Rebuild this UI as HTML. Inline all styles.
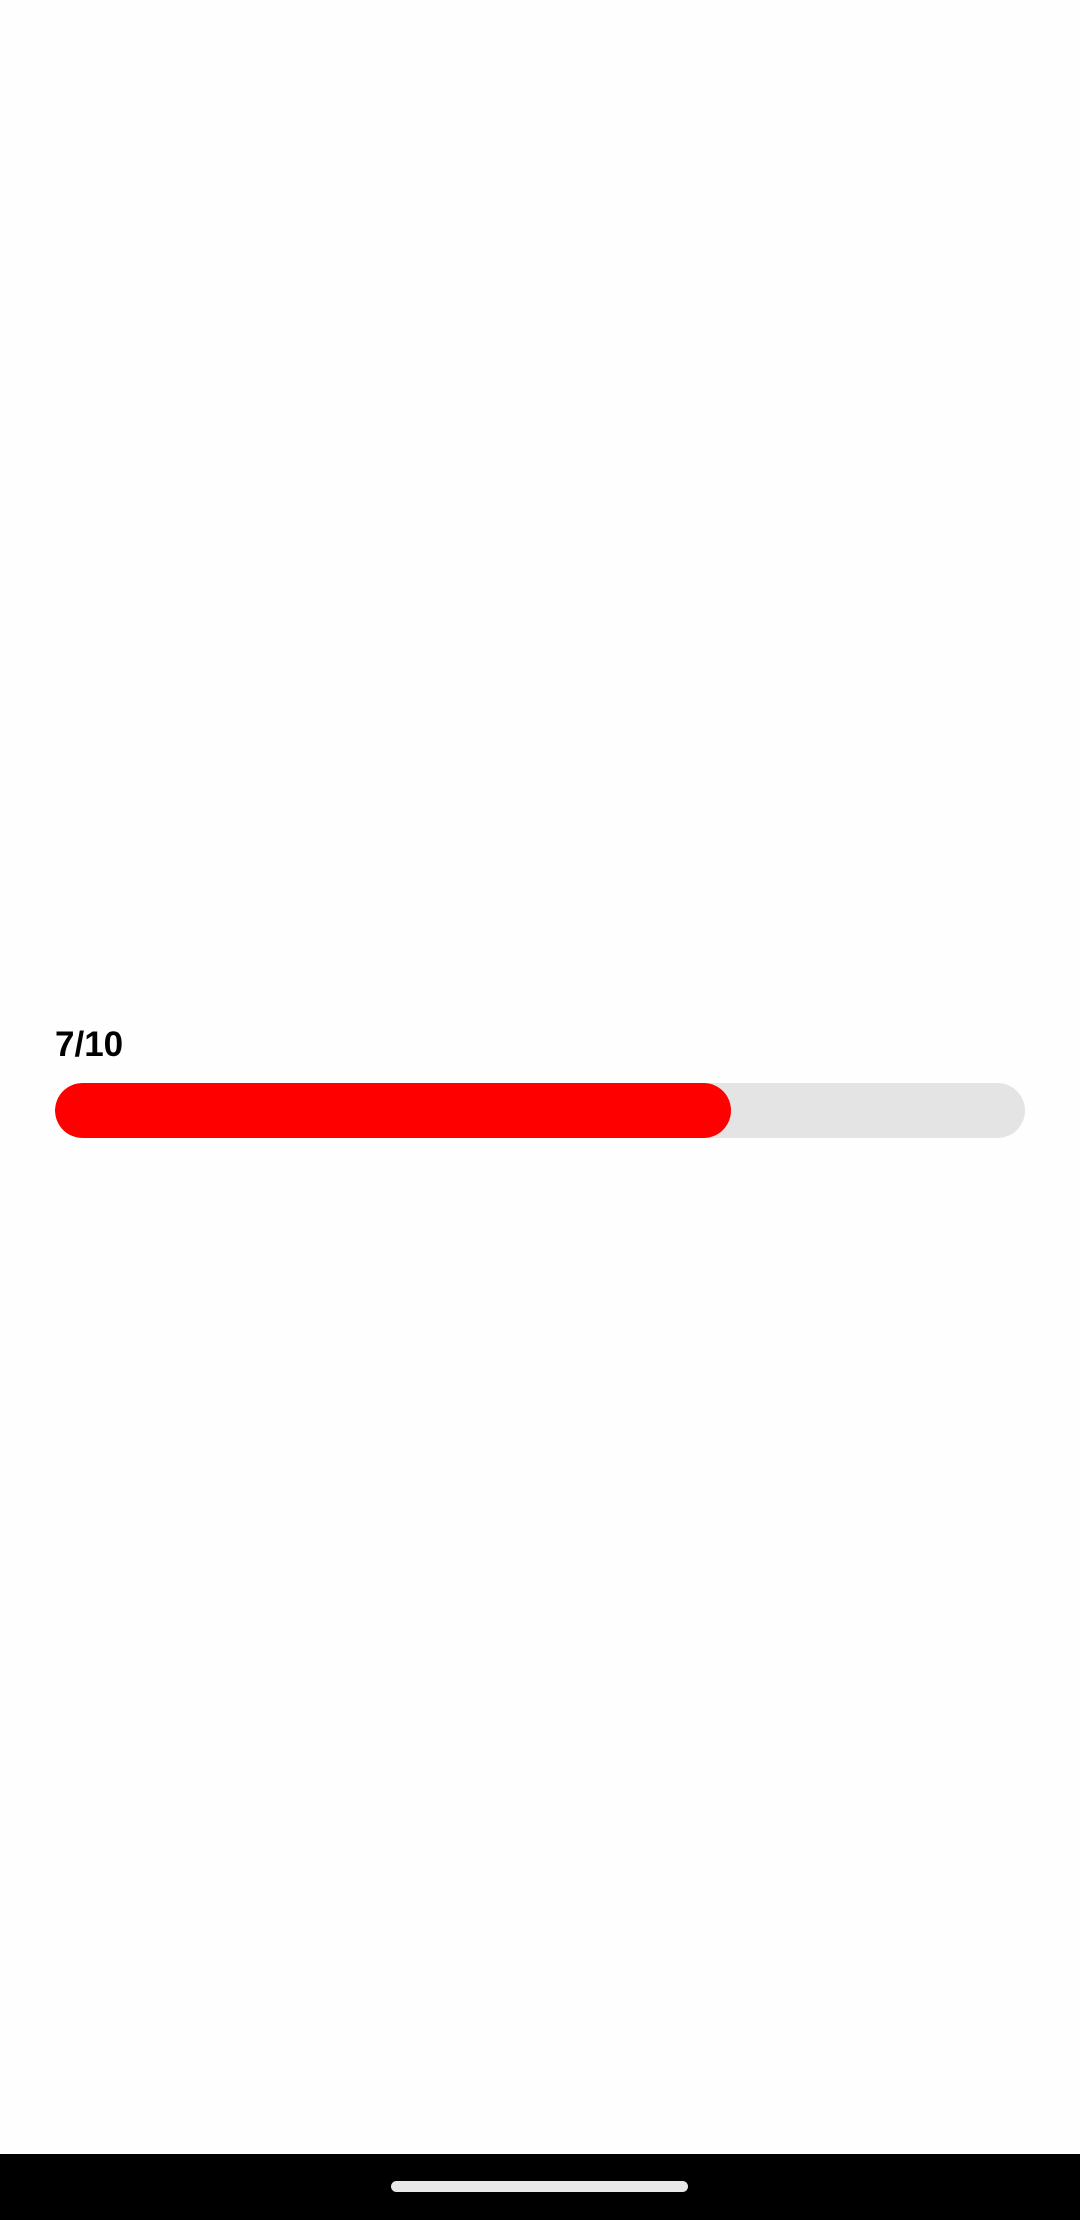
<!DOCTYPE html>
<html><head><meta charset="utf-8"><style>
body{margin:0;width:1080px;height:2220px;background:#fefefe;position:relative;overflow:hidden;font-family:"Liberation Sans",sans-serif}
#label{position:absolute;left:55px;top:1022px;font-size:35px;font-weight:bold;color:#000;line-height:46px}
#track{position:absolute;left:55px;top:1083px;width:970px;height:55px;border-radius:27.5px;background:#e4e4e4;overflow:hidden}
#fill{position:absolute;left:0;top:0;height:55px;border-radius:27.5px;background:#ff0000}
#navbar{position:absolute;left:0;top:2154px;width:1080px;height:66px;background:#000}
#home{position:absolute;left:391px;top:27px;width:297px;height:11px;border-radius:6px;background:#e8e8e8}
</style></head><body>
<div id="label"></div>
<div id="track"><div id="fill"></div></div>
<div id="navbar"><div id="home"></div></div>
<script>
const current = [7];
const total = [10];
document.getElementById('label').textContent = current[0] + '/' + total[0];
const trackW = 970;
document.getElementById('fill').style.width = (trackW * current[0] / total[0] - 3) + 'px';
</script>
</body></html>
